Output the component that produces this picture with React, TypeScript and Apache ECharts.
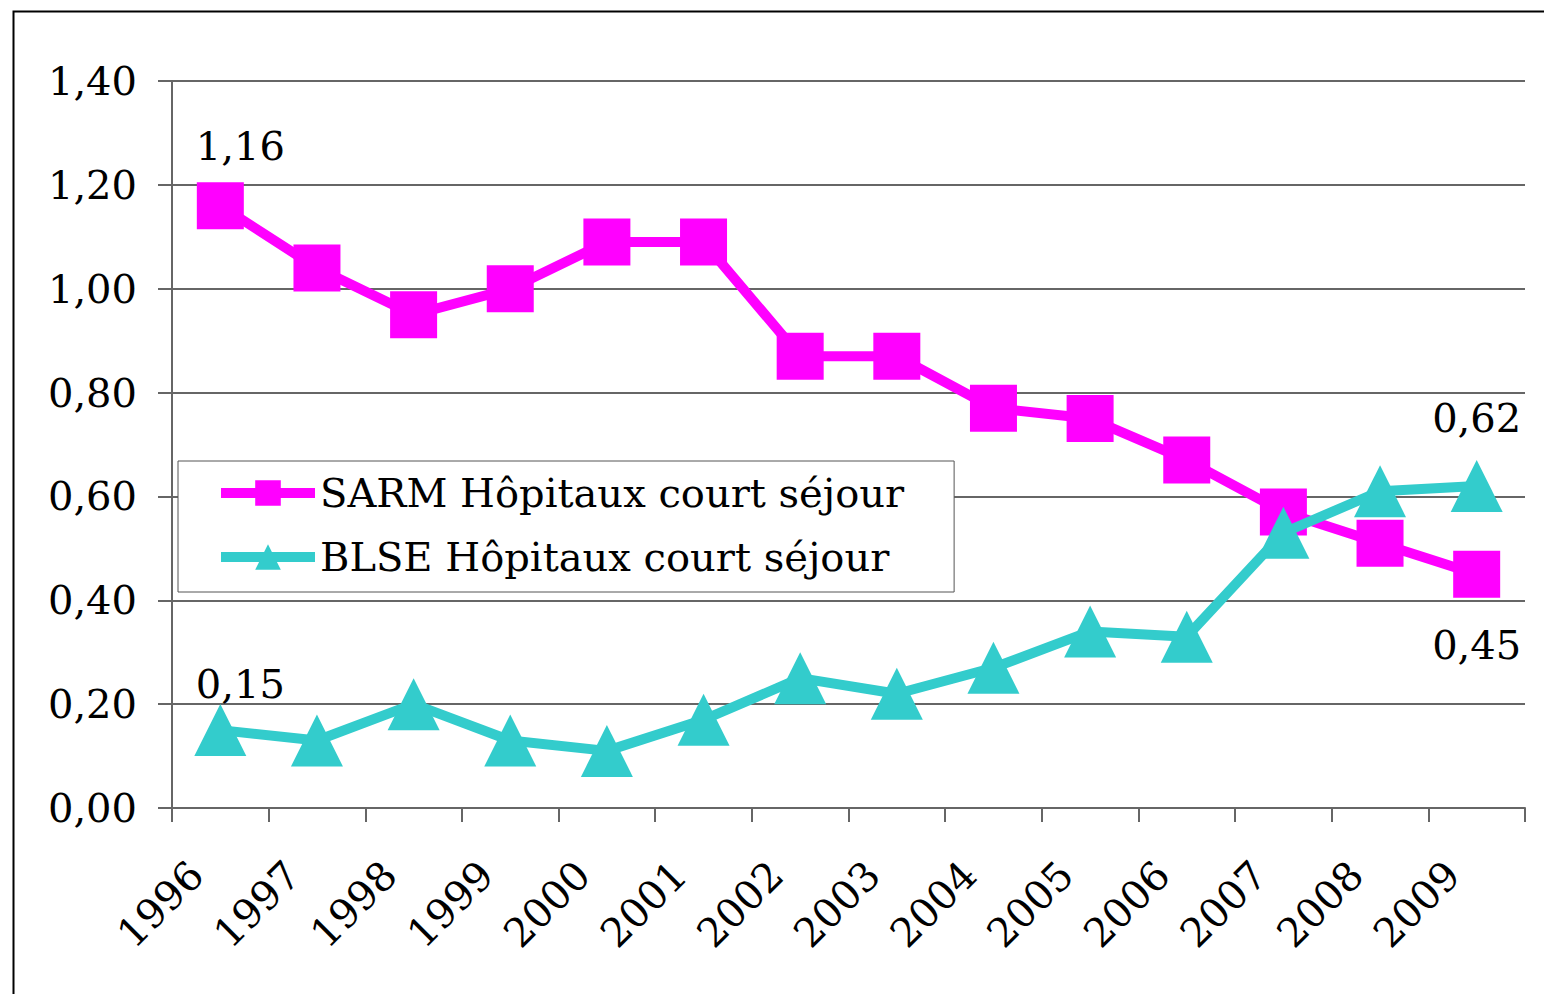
import React, { useEffect, useRef } from "react";
import * as echarts from "echarts";

const years = ["1996", "1997", "1998", "1999", "2000", "2001", "2002", "2003", "2004", "2005", "2006", "2007", "2008", "2009"];
const sarmValues = [1.16, 1.04, 0.95, 1.0, 1.09, 1.09, 0.87, 0.87, 0.77, 0.75, 0.67, 0.57, 0.51, 0.45];
const blseValues = [0.15, 0.13, 0.2, 0.13, 0.11, 0.17, 0.25, 0.22, 0.27, 0.34, 0.33, 0.53, 0.61, 0.62];
const seriesNames = ["SARM Hôpitaux court séjour", "BLSE Hôpitaux court séjour"];

const FONT = "DejaVu Serif";
const FS = 40;
const fmt = (v: number) => v.toFixed(2).replace(".", ",");

export default function App() {
  const ref = useRef<HTMLDivElement>(null);
  useEffect(() => {
    if (!ref.current) return;
    const chart = echarts.init(ref.current, undefined, { renderer: "svg" });
    const last = years.length - 1;
    const labelBase = { show: true, color: "#000", fontFamily: FONT, fontSize: FS, formatter: (p: any) => fmt(p.value) };
    const sarmData = sarmValues.map((v, i) =>
      i === 0
        ? { value: v, label: { ...labelBase, position: "top", distance: 16, offset: [20, 0] } }
        : i === last
        ? { value: v, label: { ...labelBase, position: "bottom", distance: 27 } }
        : v
    );
    const blseData = blseValues.map((v, i) =>
      i === 0
        ? { value: v, label: { ...labelBase, position: "top", distance: 0, offset: [20, 0] } }
        : i === last
        ? { value: v, label: { ...labelBase, position: "top", distance: 22 } }
        : v
    );
    chart.setOption({
      animation: false,
      backgroundColor: "#fff",
      textStyle: { fontFamily: FONT },
      grid: { left: 172, right: 19, top: 81, bottom: 186, containLabel: false },
      graphic: [
        {
          type: "rect",
          left: 11,
          top: 9,
          shape: { width: 1600, height: 1100 },
          style: { fill: "none", stroke: "#000", lineWidth: 2 },
          silent: true,
        },
      ],
      legend: {
        orient: "vertical",
        left: 178,
        top: 461,
        backgroundColor: "#fff",
        borderColor: "#555",
        borderWidth: 1,
        borderRadius: 0,
        padding: [10, 50, 13, 38],
        itemGap: 20,
        itemWidth: 94,
        itemHeight: 32,
        lineStyle: { width: 10 },
        textStyle: { fontFamily: FONT, fontSize: FS, color: "#000", lineHeight: 44 },
        data: seriesNames,
      },
      xAxis: {
        type: "category",
        data: years,
        boundaryGap: true,
        axisLine: { lineStyle: { color: "#666", width: 2 } },
        axisTick: { show: true, length: 14, lineStyle: { color: "#666", width: 2 } },
        axisLabel: { rotate: 45, margin: 36, padding: [0, 34, 0, 0], fontFamily: FONT, fontSize: FS, color: "#000" },
        splitLine: { show: false },
      },
      yAxis: {
        type: "value",
        min: 0,
        max: 1.4,
        interval: 0.2,
        axisLine: { show: true, lineStyle: { color: "#666", width: 2 } },
        axisTick: { show: true, length: 14, lineStyle: { color: "#666", width: 2 } },
        axisLabel: { margin: 35, fontFamily: FONT, fontSize: FS, color: "#000", formatter: (v: number) => fmt(v) },
        splitLine: { show: true, lineStyle: { color: "#666", width: 2 } },
      },
      series: [
        {
          name: seriesNames[0],
          type: "line",
          data: sarmData,
          symbol: "rect",
          symbolSize: 47,
          lineStyle: { color: "#FF00FF", width: 10 },
          itemStyle: { color: "#FF00FF" },
          z: 3,
        },
        {
          name: seriesNames[1],
          type: "line",
          data: blseData,
          symbol: "triangle",
          symbolSize: [52, 52],
          lineStyle: { color: "#33CCCC", width: 10 },
          itemStyle: { color: "#33CCCC" },
          z: 4,
        },
      ],
    });
    return () => chart.dispose();
  }, []);
  return <div ref={ref} style={{ position: "fixed", left: 0, top: 0, width: 1544, height: 994 }} />;
}
